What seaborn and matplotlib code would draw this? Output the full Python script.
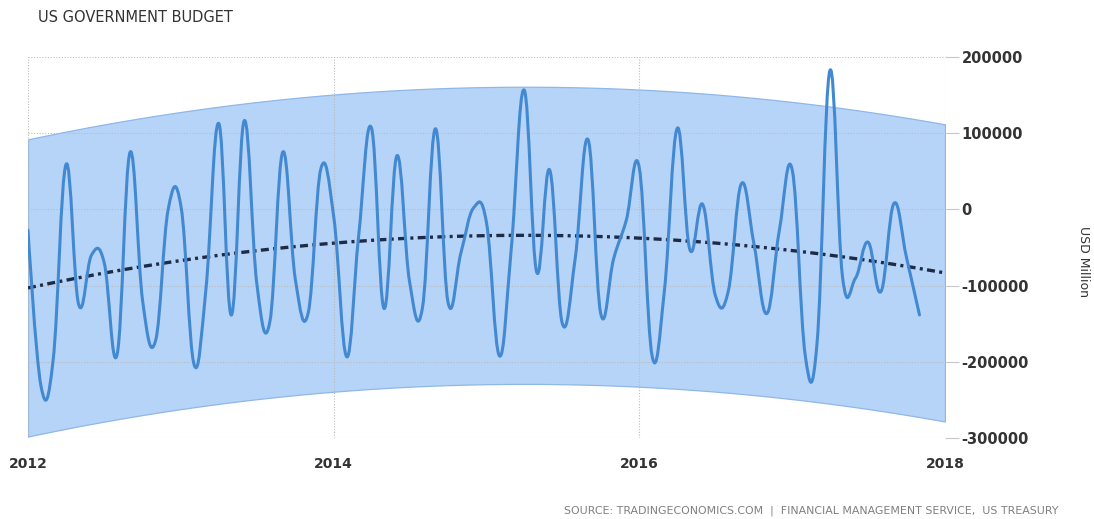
import numpy as np
import pandas as pd
import matplotlib
matplotlib.use("Agg")
import matplotlib.pyplot as plt
import matplotlib.dates as mdates
from matplotlib.path import Path
from matplotlib.patches import PathPatch
import seaborn as sns

# monthly balance, USD million, Jan 2012 .. Nov 2017
budget_2012 = [-27407, -231696, -198155, 59117, -124600, -59728,
               -69598, -190485, 75016, -120000, -172119, -260]
budget_2013 = [2880, -203539, -106530, 112889, -138732, 116501,
               -97594, -147892, 75177, -91600, -135234, 53223]
budget_2014 = [-10361, -193456, -36939, 106930, -130008, 70502,
               -94569, -128709, 105835, -121700, -56829, 1922]
budget_2015 = [-17516, -192266, -52545, 156704, -82413, 51804,
               -149219, -64386, 91298, -136546, -64557, -14441]
budget_2016 = [55243, -192616, -108030, 106481, -52547, 6320,
               -112818, -107083, 33405, -44223, -136720, -27473]
budget_2017 = [51263, -192007, -176213, 182379, -88431, -90218,
               -42938, -107728, 7866, -63215, -138500]

values = budget_2012 + budget_2013 + budget_2014 + budget_2015 + budget_2016 + budget_2017
months = pd.date_range("2012-01-01", periods=len(values), freq="MS")

x_ticks = ["2012", "2014", "2016", "2018"]
y_ticks = [200000, 100000, 0, -100000, -200000, -300000]
band_half_width = 195000

TITLE = "US GOVERNMENT BUDGET"
SOURCE = "SOURCE: TRADINGECONOMICS.COM  |  FINANCIAL MANAGEMENT SERVICE,  US TREASURY"

LINE_COLOR = "#4289d2"
BAND_COLOR = "#b6d4f7"
TREND_COLOR = "#1d2b47"
TEXT_COLOR = "#333333"


def spline_path(xs, ys, smoothing=1.5):
    # highcharts style bezier spline through the data points
    denom = smoothing + 1
    n = len(xs)
    left = [None] * n
    right = [None] * n
    for i in range(1, n - 1):
        x, y = xs[i], ys[i]
        lcx = (smoothing * x + xs[i - 1]) / denom
        lcy = (smoothing * y + ys[i - 1]) / denom
        rcx = (smoothing * x + xs[i + 1]) / denom
        rcy = (smoothing * y + ys[i + 1]) / denom
        corr = (rcy - lcy) * (rcx - x) / (rcx - lcx) + y - rcy
        left[i] = (lcx, lcy + corr)
        right[i] = (rcx, rcy + corr)
    verts = [(xs[0], ys[0])]
    codes = [Path.MOVETO]
    for i in range(1, n):
        c1 = right[i - 1] if right[i - 1] is not None else (xs[i - 1], ys[i - 1])
        c2 = left[i] if left[i] is not None else (xs[i], ys[i])
        verts += [c1, c2, (xs[i], ys[i])]
        codes += [Path.CURVE4] * 3
    return Path(verts, codes)


sns.set_style("white")
plt.rcParams["font.family"] = ["DejaVu Sans"]

fig = plt.figure(figsize=(10.94, 5.19), dpi=100)
ax = fig.add_axes([28 / 1094, 81 / 519, 917 / 1094, 381 / 519])

xnum = mdates.date2num(months)
start = mdates.date2num(pd.Timestamp("2012-01-01"))
end = mdates.date2num(pd.Timestamp("2018-01-01"))

# quadratic trend of the series and its band
coef = np.polyfit(xnum - start, np.array(values, dtype=float), 2)
trend_x = np.linspace(start, end, 300)
trend_y = np.polyval(coef, trend_x - start)
trend = pd.DataFrame({"date": mdates.num2date(trend_x), "trend": trend_y})

ax.fill_between(trend["date"], trend_y - band_half_width, trend_y + band_half_width,
                color=BAND_COLOR, edgecolor="#8fb7e8", linewidth=0.9, zorder=1)

sns.lineplot(data=trend, x="date", y="trend", ax=ax, color=TREND_COLOR,
             linewidth=2.4, dashes=False, zorder=3)
ax.lines[-1].set_dashes((2.4, 1.3, 0.9, 1.3))

ax.add_patch(PathPatch(spline_path(xnum, values), facecolor="none",
                       edgecolor=LINE_COLOR, linewidth=2.2, zorder=4,
                       capstyle="round", joinstyle="round"))

ax.set_xlim(start, end)
ax.set_ylim(-300000, 200000)
ax.set_xticks([mdates.date2num(pd.Timestamp(t + "-01-01")) for t in x_ticks])
ax.set_xticklabels(x_ticks)
ax.set_yticks(y_ticks)
ax.set_yticklabels([str(v) for v in y_ticks])
ax.yaxis.tick_right()
ax.set_xlabel("")
ax.set_ylabel("")

# grid sits over the band, under the lines
ax.set_axisbelow(False)
ax.grid(True, color="#bcbcbc", linestyle=(0, (1, 1.5)), linewidth=0.8)
for s in ax.spines.values():
    s.set_visible(False)
ax.tick_params(axis="x", length=7, color="#c8c8c8", labelsize=10, labelcolor=TEXT_COLOR, pad=7)
ax.tick_params(axis="y", length=10, color="#c8c8c8", labelsize=10.5, labelcolor=TEXT_COLOR, pad=2)
for lab in ax.get_xticklabels() + ax.get_yticklabels():
    lab.set_fontweight("bold")

fig.text(1083 / 1094, 1 - 262 / 519, "USD Million", rotation=-90, ha="center", va="center",
         fontsize=9, color=TEXT_COLOR)
fig.text(38 / 1094, 1 - 18 / 519, TITLE, ha="left", va="center", fontsize=10.5, color=TEXT_COLOR)
fig.text(1058 / 1094, 1 - 511 / 519, SOURCE, ha="right", va="center", fontsize=7.9, color="#808080")

fig.savefig("out.png", dpi=100)
